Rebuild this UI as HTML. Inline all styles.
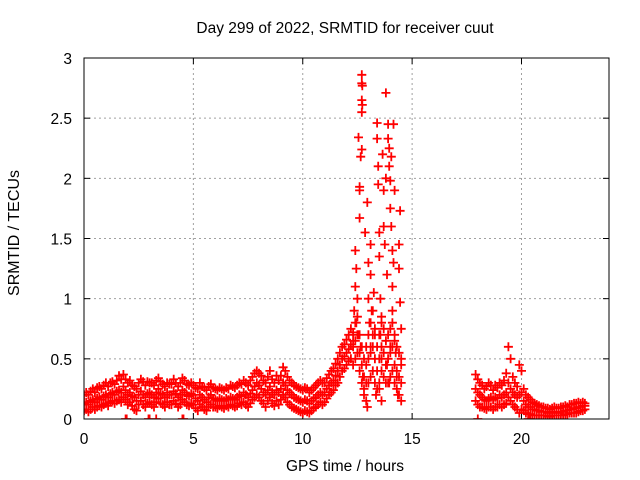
<!DOCTYPE html>
<html><head><meta charset="utf-8"><style>
body{margin:0;background:#fff;}
svg{display:block;font-family:"Liberation Sans",sans-serif;}
</style></head><body>
<svg id="chart" width="640" height="480">
<rect width="640" height="480" fill="#fff"/>
<text x="345" y="33" font-size="15.5" text-anchor="middle">Day 299 of 2022, SRMTID for receiver cuut</text>
<text x="345" y="471" font-size="15.5" text-anchor="middle">GPS time / hours</text>
<text transform="translate(19,233) rotate(-90)" font-size="16" text-anchor="middle">SRMTID / TECUs</text>
<g id="grid"></g><g id="axes"></g><g id="marks"></g>
<rect x="84" y="58" width="525" height="361" fill="none" stroke="#000" stroke-width="1"/>
</svg>
<script>
const xTicks=[0,5,10,15,20];
const yTicks=[0,0.5,1,1.5,2,2.5,3];
const yTickLabels=["0","0.5","1","1.5","2","2.5","3"];
const seg1Start=0, seg2Start=17.9, step=0.1;
const mid1=[.13,.14,.12,.15,.16,.14,.17,.18,.16,.19,.2,.18,.21,.22,.2,.23,.24,.22,.27,.24,.2,.22,.19,.18,.15,.2,.23,.2,.18,.21,.22,.2,.18,.22,.25,.21,.2,.18,.22,.2,.2,.23,.21,.18,.2,.24,.22,.2,.19,.21,.2,.17,.15,.2,.18,.16,.14,.18,.2,.17,.16,.15,.17,.16,.15,.17,.16,.18,.17,.16,.18,.2,.19,.22,.2,.18,.21,.24,.27,.3,.28,.25,.22,.2,.24,.27,.22,.2,.24,.22,.25,.3,.28,.24,.22,.2,.18,.17,.16,.15,.14,.16,.15,.13,.15,.17,.18,.2,.22,.2,.22,.25,.28,.3,.32,.36,.4,.45,.5,.52,.55,.58,.62,.6,.65,.7,.55,.45,.35,.3,.5,.6,.7,.5,.4,.5,.6,.55,.45,.5,.55,.6,.45,.4,.35,.3];
const hi1=[.2,.22,.2,.23,.25,.22,.26,.27,.25,.28,.3,.27,.3,.31,.29,.32,.36,.33,.37,.33,.3,.32,.28,.27,.25,.3,.33,.31,.28,.31,.3,.3,.28,.32,.34,.31,.29,.27,.3,.29,.29,.33,.3,.27,.3,.34,.32,.29,.28,.3,.28,.26,.25,.3,.27,.26,.24,.27,.29,.26,.25,.24,.26,.25,.24,.26,.25,.28,.27,.26,.28,.3,.29,.32,.3,.28,.32,.35,.38,.4,.38,.36,.32,.3,.35,.4,.33,.3,.36,.32,.36,.43,.4,.35,.32,.3,.28,.27,.26,.25,.24,.26,.25,.22,.24,.26,.28,.3,.32,.3,.3,.34,.37,.4,.42,.46,.5,.55,.6,.62,.66,.7,.75,.72,.8,.85,.7,.6,.5,.45,.7,.8,.9,.7,.6,.7,.8,.75,.65,.7,.75,.8,.65,.6,.55,.45];
const lo1=[.07,.08,.06,.08,.1,.08,.1,.11,.1,.12,.13,.11,.14,.15,.13,.15,.16,.14,.18,.16,.12,.14,.11,.08,.07,.12,.15,.12,.1,.13,.14,.12,.1,.14,.17,.13,.12,.1,.14,.12,.12,.15,.13,.1,.12,.16,.14,.12,.11,.13,.12,.09,.07,.12,.1,.08,.07,.1,.12,.1,.1,.09,.11,.1,.09,.11,.1,.12,.11,.1,.11,.13,.12,.14,.12,.1,.13,.16,.18,.2,.18,.15,.13,.1,.15,.18,.13,.11,.15,.12,.16,.2,.18,.14,.12,.1,.09,.08,.07,.06,.05,.07,.06,.05,.07,.09,.1,.12,.14,.12,.14,.17,.2,.22,.24,.28,.3,.35,.4,.42,.45,.48,.5,.45,.5,.55,.4,.3,.2,.15,.3,.35,.4,.3,.25,.3,.4,.35,.3,.3,.35,.4,.3,.25,.2,.15];
const mid2=[.25,.22,.2,.18,.16,.15,.17,.18,.16,.18,.17,.2,.18,.2,.22,.3,.25,.22,.2,.18,.2,.22,.15,.12,.1,.1,.08,.08,.07,.07,.06,.06,.06,.05,.05,.05,.06,.06,.05,.06,.06,.07,.07,.08,.08,.09,.09,.1,.1,.11,.11];
const hi2=[.37,.33,.3,.28,.25,.27,.3,.28,.24,.28,.26,.3,.28,.32,.38,.6,.5,.35,.3,.27,.45,.4,.25,.2,.18,.16,.14,.13,.12,.11,.1,.1,.09,.09,.08,.09,.1,.09,.09,.1,.1,.11,.1,.12,.12,.13,.13,.14,.13,.14,.13];
const lo2=[.15,.12,.1,.1,.09,.08,.1,.1,.08,.1,.1,.12,.1,.12,.13,.18,.15,.12,.1,.08,.05,.08,.07,.05,.04,.04,.03,.03,.03,.03,.03,.03,.03,.02,.02,.03,.03,.03,.03,.03,.03,.04,.04,.05,.05,.05,.05,.06,.07,.07,.08];
const spikeT=[12.3,12.35,12.4,12.4,12.45,12.45,12.5,12.5,12.55,12.6,12.6,12.6,12.55,12.65,12.7,12.7,12.7,12.72,12.7,12.72,12.7,12.65,12.7,12.75,12.8,12.8,12.9,12.95,13.0,13.0,13.05,13.1,13.1,13.15,13.2,13.2,13.25,13.3,13.3,13.35,13.4,13.4,13.45,13.45,13.5,13.5,13.55,13.55,13.6,13.6,13.65,13.7,13.7,13.75,13.8,13.8,13.85,13.9,13.9,13.95,13.95,14.0,14.0,14.05,14.05,14.1,14.1,14.1,14.15,14.15,14.2,14.2,14.25,14.3,14.35,14.4,14.4,14.45,14.45,14.5,14.5,13.95,13.85,14.0,13.5,13.7,13.6,12.9,13.1,12.85,12.95];
const spikeV=[0.65,0.9,1.1,1.4,1.25,0.8,1.0,0.55,0.7,1.93,1.9,1.67,2.34,2.18,2.24,2.86,2.79,2.77,2.65,2.61,2.55,0.6,0.45,0.35,0.5,0.25,0.15,0.1,1.3,1.0,0.8,1.45,1.2,0.9,0.6,0.4,1.05,0.3,0.75,0.2,2.46,2.33,2.1,1.95,1.55,1.35,1.0,0.7,0.5,0.85,2.2,1.9,1.6,1.45,2.71,2.0,1.2,2.45,2.33,2.25,2.1,1.98,1.75,2.18,1.6,1.4,1.1,0.9,2.45,1.3,1.9,0.7,0.55,0.35,0.2,1.45,1.25,1.73,0.97,0.5,0.75,0.3,0.45,0.6,0.25,0.35,0.15,0.6,0.55,1.55,1.8];
const zeroT=[1.9,1.95,2.95,3.0,3.3,4.5,4.55,18.0,20.3,20.35];
const zeroV=[0,0,0,0,0,0,0,0,0,0];

const X0=84,X1=609,Y0=419,Y1=58,XMAX=24,YMAX=3;
const sx=t=>X0+(X1-X0)*t/XMAX;
const sy=v=>Y0-(Y0-Y1)*v/YMAX;
const NS="http://www.w3.org/2000/svg";
const grid=document.getElementById('grid'),axes=document.getElementById('axes'),marks=document.getElementById('marks');
function mk(tag,attrs,parent){const e=document.createElementNS(NS,tag);for(const k in attrs)e.setAttribute(k,attrs[k]);parent.appendChild(e);return e;}
xTicks.forEach(t=>{
  const x=sx(t);
  if(t>0){const g=mk('line',{x1:x,x2:x,y1:Y1,y2:Y0,stroke:'#a0a0a0','stroke-dasharray':'2,3'},grid);
  
  }
  mk('line',{x1:x,x2:x,y1:Y0,y2:Y0-6,stroke:'#000'},axes);
  mk('line',{x1:x,x2:x,y1:Y1,y2:Y1+6,stroke:'#000'},axes);
  const l=mk('text',{x:x,y:Y0+25,'font-size':15.5,'text-anchor':'middle'},axes);l.textContent=t;
  
  
});
yTicks.forEach((v,i)=>{
  const y=sy(v);
  if(v>0&&v<YMAX){const g=mk('line',{x1:X0,x2:X1,y1:y,y2:y,stroke:'#a0a0a0','stroke-dasharray':'2,3'},grid);
  
  }
  mk('line',{x1:X0,x2:X0+6,y1:y,y2:y,stroke:'#000'},axes);
  mk('line',{x1:X1,x2:X1-6,y1:y,y2:y,stroke:'#000'},axes);
  const l=mk('text',{x:X0-12,y:y+6,'font-size':15.5,'text-anchor':'end'},axes);l.textContent=yTickLabels[i];
  
  
});
let d='';
function plus(t,v){const x=sx(t),y=sy(v);d+=`M${(x-4.5).toFixed(1)} ${y.toFixed(1)}h9M${x.toFixed(1)} ${(y-4.5).toFixed(1)}v9`;}
[mid1,hi1,lo1].forEach(a=>a.forEach((v,i)=>plus(seg1Start+i*step,v)));
[mid2,hi2,lo2].forEach(a=>a.forEach((v,i)=>plus(seg2Start+i*step,v)));
spikeT.forEach((t,i)=>plus(t,spikeV[i]));
zeroT.forEach((t,i)=>plus(t,zeroV[i]));
const p=mk('path',{d:d,stroke:'#ff0000','stroke-width':1.8,fill:'none','clip-path':'url(#clip)'},marks);


const cp=mk('clipPath',{id:'clip'},document.getElementById('chart'));
mk('rect',{x:X0,y:Y1,width:X1-X0,height:Y0-Y1},cp);
</script>
</body></html>
